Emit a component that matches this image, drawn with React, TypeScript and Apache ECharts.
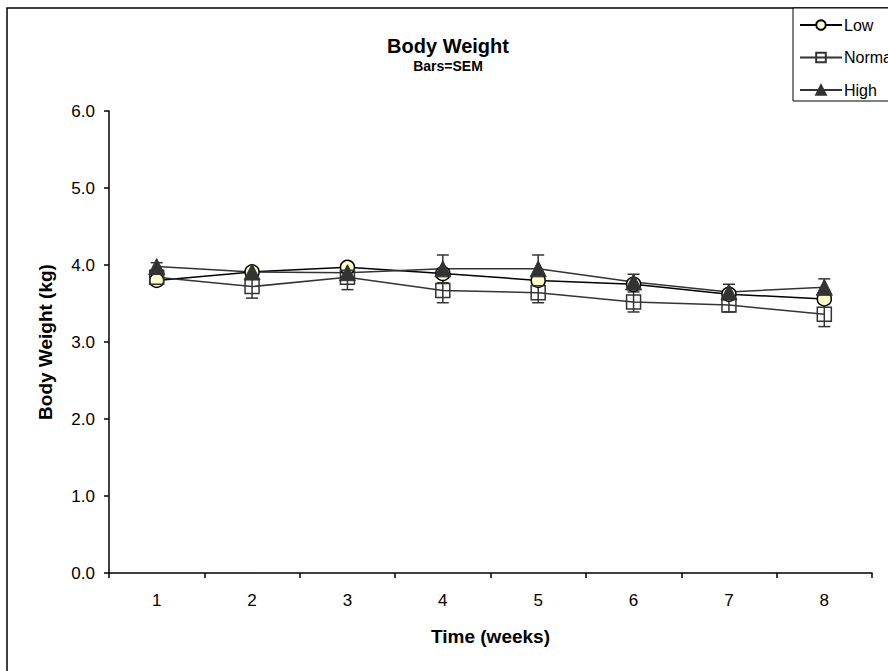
import React, { useEffect, useRef } from "react";
import * as echarts from "echarts";

const weeks = ["1", "2", "3", "4", "5", "6", "7", "8"];
const lowValues = [3.8, 3.91, 3.97, 3.89, 3.8, 3.75, 3.62, 3.56];
const normalValues = [3.84, 3.72, 3.84, 3.67, 3.64, 3.52, 3.48, 3.36];
const highValues = [3.98, 3.91, 3.9, 3.95, 3.95, 3.78, 3.65, 3.71];
const lowSem = [0.04, 0.04, 0.04, 0.05, 0.05, 0.05, 0.05, 0.05];
const normalSem = [0.06, 0.15, 0.16, 0.16, 0.13, 0.13, 0.09, 0.16];
const highSem = [0.05, 0.05, 0.05, 0.18, 0.18, 0.1, 0.1, 0.11];
const yTicks = [0, 1, 2, 3, 4, 5, 6];

const FONT = "'Liberation Sans', Arial, sans-serif";

function errorSeries(name: string, values: number[], sem: number[], color: string) {
  return {
    type: "custom",
    name: name + " SEM",
    z: 1,
    silent: true,
    data: values.map((v, i) => [i, v - sem[i], v + sem[i]]),
    renderItem: (params: any, api: any) => {
      const x = api.value(0);
      const lo = api.coord([x, api.value(1)]);
      const hi = api.coord([x, api.value(2)]);
      const cw = 6;
      const st = { stroke: color, lineWidth: 1.5 };
      return {
        type: "group",
        children: [
          { type: "line", shape: { x1: lo[0], y1: lo[1], x2: hi[0], y2: hi[1] }, style: st },
          { type: "line", shape: { x1: lo[0] - cw, y1: lo[1], x2: lo[0] + cw, y2: lo[1] }, style: st },
          { type: "line", shape: { x1: hi[0] - cw, y1: hi[1], x2: hi[0] + cw, y2: hi[1] }, style: st },
        ],
      };
    },
  };
}

export default function App() {
  const ref = useRef<HTMLDivElement>(null);
  useEffect(() => {
    if (!ref.current) return;
    const chart = echarts.init(ref.current, undefined, { renderer: "svg" });
    chart.setOption({
      animation: false,
      backgroundColor: "#ffffff",
      textStyle: { fontFamily: FONT },
      title: {
        text: "Body Weight",
        subtext: "Bars=SEM",
        left: 443,
        top: 31,
        textAlign: "center",
        itemGap: 3,
        textStyle: { fontFamily: FONT, fontSize: 20, fontWeight: "bold", color: "#000" },
        subtextStyle: { fontFamily: FONT, fontSize: 14, fontWeight: "bold", color: "#000" },
      },
      graphic: [
        {
          type: "rect",
          shape: { x: 7, y: 8, width: 1000, height: 800 },
          style: { fill: "none", stroke: "#000", lineWidth: 1.5 },
          z: 0,
        },
        {
          type: "rect",
          shape: { x: 793, y: 8, width: 200, height: 93 },
          style: { fill: "#fff", stroke: "#000", lineWidth: 1 },
          z: 0,
        },
      ],
      legend: {
        orient: "vertical",
        left: 795,
        top: 8,
        padding: [9, 4, 6, 4],
        itemGap: 16.5,
        itemWidth: 42,
        itemHeight: 12,
        z: 5,
        textStyle: { fontFamily: FONT, fontSize: 16, color: "#000", padding: [0, 0, 0, -3] },
        data: ["Low", "Normal", "High"],
      },
      grid: { left: 109, right: 16, top: 111, bottom: 98 },
      xAxis: {
        type: "category",
        data: weeks,
        boundaryGap: true,
        name: "Time (weeks)",
        nameLocation: "middle",
        nameGap: 54,
        nameTextStyle: { fontFamily: FONT, fontSize: 19, fontWeight: "bold", color: "#000" },
        axisLine: { lineStyle: { color: "#000", width: 1.5 } },
        axisTick: { show: true, length: 5, inside: false, lineStyle: { color: "#000", width: 1.5 } },
        axisLabel: { fontFamily: FONT, fontSize: 17, color: "#000", margin: 19 },
        splitLine: { show: false },
      },
      yAxis: {
        type: "value",
        min: yTicks[0],
        max: yTicks[yTicks.length - 1],
        interval: 1,
        name: "Body Weight (kg)",
        nameLocation: "middle",
        nameGap: 54,
        nameRotate: 90,
        nameTextStyle: { fontFamily: FONT, fontSize: 19, fontWeight: "bold", color: "#000" },
        axisLine: { show: true, lineStyle: { color: "#000", width: 1.5 } },
        axisTick: { show: true, length: 5, lineStyle: { color: "#000", width: 1.5 } },
        axisLabel: {
          fontFamily: FONT,
          fontSize: 17,
          color: "#000",
          margin: 14,
          formatter: (v: number) => v.toFixed(1),
        },
        splitLine: { show: false },
      },
      series: [
        errorSeries("Low", lowValues, lowSem, "#333"),
        errorSeries("Normal", normalValues, normalSem, "#333"),
        errorSeries("High", highValues, highSem, "#333"),
        {
          name: "Low",
          type: "line",
          z: 3,
          data: lowValues,
          symbol: "circle",
          symbolSize: 14,
          showSymbol: true,
          lineStyle: { color: "#000", width: 1.5 },
          itemStyle: { color: "#FFFFCC", borderColor: "#000", borderWidth: 1.5 },
        },
        {
          name: "Normal",
          type: "line",
          z: 3,
          data: normalValues,
          symbol: "rect",
          symbolSize: 14,
          showSymbol: true,
          lineStyle: { color: "#333", width: 1.5 },
          itemStyle: { color: "rgba(255,255,255,0)", borderColor: "#333", borderWidth: 1.5 },
        },
        {
          name: "High",
          type: "line",
          z: 3,
          data: highValues,
          symbol: "triangle",
          symbolSize: 16,
          showSymbol: true,
          lineStyle: { color: "#333", width: 1.5 },
          itemStyle: { color: "#333", borderColor: "#333", borderWidth: 1 },
        },
      ],
    });
    return () => chart.dispose();
  }, []);
  return (
    <div
      ref={ref}
      style={{ position: "absolute", left: 0, top: 0, width: 888, height: 671 }}
    />
  );
}
